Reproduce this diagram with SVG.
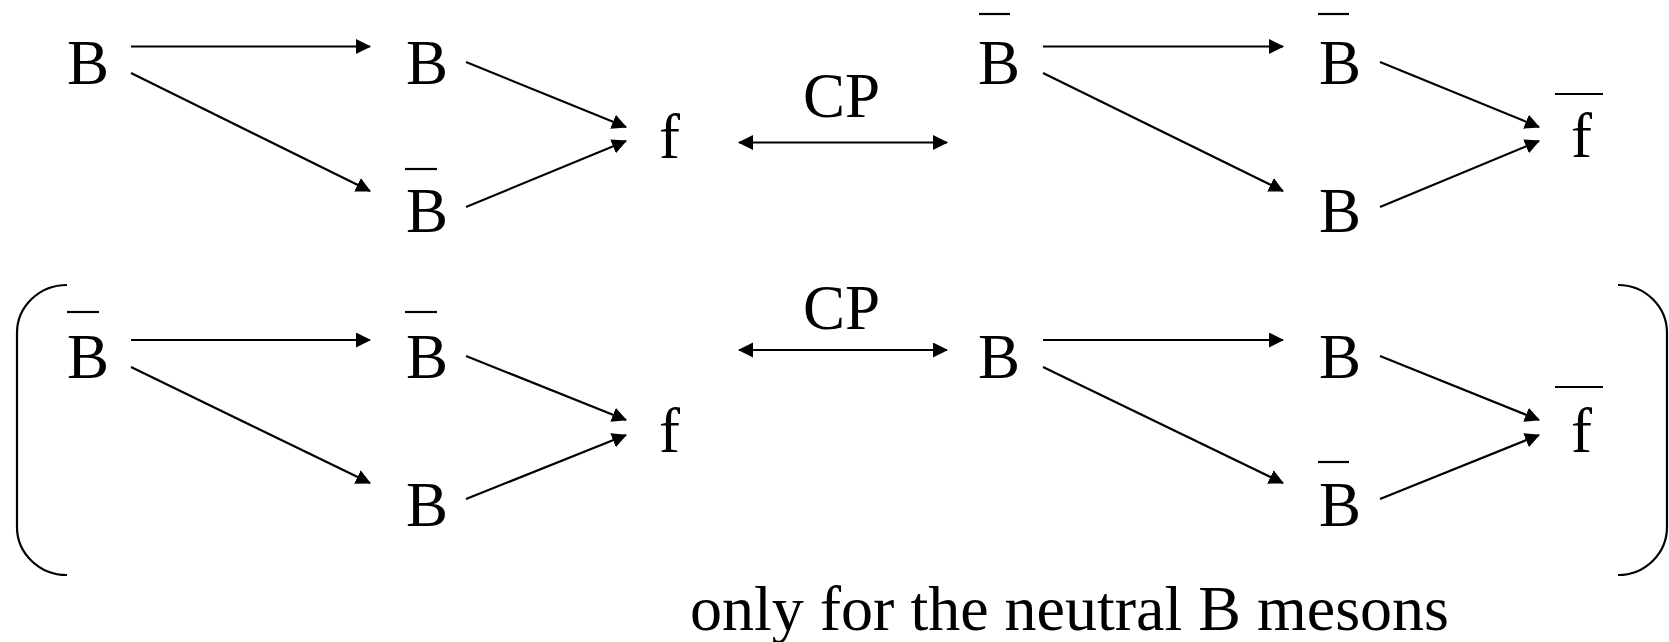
<svg xmlns="http://www.w3.org/2000/svg" width="1669" height="642" viewBox="0 0 1669 642">
<style>
text{font-family:"Liberation Serif","Times New Roman",serif;font-size:63px;fill:#000}
.bar{stroke:#000;stroke-width:2.2}
.c line{stroke:#000;stroke-width:2.2;fill:none}
.c path{stroke:#000;stroke-width:2.2;fill:none}
.a{marker-end:url(#ah)}
.d{marker-end:url(#ah);marker-start:url(#ah)}
</style>
<defs>
<marker id="ah" markerUnits="userSpaceOnUse" markerWidth="16" markerHeight="16" viewBox="0 0 16 16" refX="14" refY="7.5" orient="auto-start-reverse">
<path d="M0,0 L15,7.5 L0,15 z" fill="#000"/>
</marker>
</defs>
<rect width="1669" height="642" fill="#fff"/>

<g id="top-B1"><text x="67" y="84">B</text></g>
<g id="top-B2"><text x="406" y="84">B</text></g>
<g id="top-Bbar3"><line class="bar" x1="405" y1="169" x2="437" y2="169"/><text x="406" y="232">B</text></g>
<g id="top-f"><text x="659" y="158">f</text></g>
<g id="top-CP"><text x="803" y="117">CP</text></g>
<g id="top-Bbar4"><line class="bar" x1="979" y1="14" x2="1010" y2="14"/><text x="978" y="84">B</text></g>
<g id="top-Bbar5"><line class="bar" x1="1318" y1="14" x2="1349" y2="14"/><text x="1319" y="84">B</text></g>
<g id="top-B6"><text x="1319" y="232">B</text></g>
<g id="top-fbar"><line class="bar" x1="1555" y1="94" x2="1603" y2="94"/><text x="1571" y="157">f</text></g>

<g id="bot-Bbar1"><line class="bar" x1="67" y1="312" x2="99" y2="312"/><text x="67" y="378">B</text></g>
<g id="bot-Bbar2"><line class="bar" x1="405" y1="312" x2="437" y2="312"/><text x="406" y="378">B</text></g>
<g id="bot-B3"><text x="406" y="526">B</text></g>
<g id="bot-f"><text x="659" y="452">f</text></g>
<g id="bot-CP"><text x="803" y="329">CP</text></g>
<g id="bot-B4"><text x="978" y="378">B</text></g>
<g id="bot-B5"><text x="1319" y="378">B</text></g>
<g id="bot-Bbar6"><line class="bar" x1="1318" y1="462" x2="1349" y2="462"/><text x="1319" y="526">B</text></g>
<g id="bot-fbar"><line class="bar" x1="1555" y1="387" x2="1603" y2="387"/><text x="1571" y="452">f</text></g>

<g id="note"><text x="690" y="630" style="font-size:64px">only for the neutral B mesons</text></g>

<g id="brackets" class="c">
<path d="M67,285 A50,48 0 0 0 17,333 V527 A50,48 0 0 0 67,575"/>
<path d="M1618,285 A49,48 0 0 1 1667,333 V527 A49,48 0 0 1 1618,575"/>
</g>

<g id="connectors" class="c">
<line class="a" x1="131" y1="46.5" x2="370" y2="46.5"/>
<line class="a" x1="131" y1="73" x2="370" y2="191"/>
<line class="a" x1="466" y1="62" x2="626" y2="127"/>
<line class="a" x1="466" y1="207" x2="626" y2="141"/>
<line class="d" x1="739" y1="142.5" x2="947" y2="142.5"/>
<line class="a" x1="1043" y1="46.5" x2="1283" y2="46.5"/>
<line class="a" x1="1043" y1="73" x2="1283" y2="191"/>
<line class="a" x1="1380" y1="62" x2="1539" y2="127"/>
<line class="a" x1="1380" y1="207" x2="1539" y2="141"/>

<line class="a" x1="131" y1="340" x2="370" y2="340"/>
<line class="a" x1="131" y1="367" x2="370" y2="483"/>
<line class="a" x1="466" y1="356" x2="626" y2="420"/>
<line class="a" x1="466" y1="499" x2="626" y2="435"/>
<line class="d" x1="739" y1="350" x2="947" y2="350"/>
<line class="a" x1="1043" y1="340" x2="1283" y2="340"/>
<line class="a" x1="1043" y1="367" x2="1283" y2="483"/>
<line class="a" x1="1380" y1="356" x2="1539" y2="420"/>
<line class="a" x1="1380" y1="499" x2="1539" y2="435"/>
</g>
</svg>
